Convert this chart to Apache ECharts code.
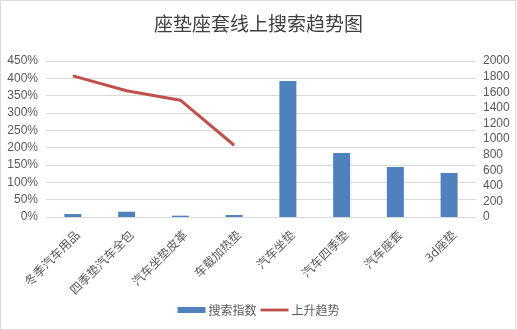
<!DOCTYPE html>
<html>
<head>
<meta charset="utf-8">
<script src="https://cdn.jsdelivr.net/npm/echarts@6/dist/echarts.min.js"></script>
<style>
html,body{margin:0;padding:0;background:#fff;}
#wrap{position:absolute;left:0;top:0;width:517px;height:330px;}
#border{position:absolute;left:0;top:0;width:516px;height:330px;box-sizing:border-box;border:1px solid #D9D9D9;pointer-events:none;}
#chart{position:absolute;left:0;top:0;width:517px;height:330px;}
</style>
</head>
<body>
<div id="wrap"><div id="chart"></div><div id="border"></div></div>
<script>
var title = '座垫座套线上搜索趋势图';
var categories = ['冬季汽车用品', '四季垫汽车全包', '汽车坐垫皮革', '车载加热垫', '汽车坐垫', '汽车四季垫', '汽车座套', '3d座垫'];
var searchIndex = [38, 68, 17, 26, 1745, 820, 641, 564];
var riseTrend = [407, 364, 337, 207, null, null, null, null];
var seriesNames = ['搜索指数', '上升趋势'];
var leftTicks = {min: 0, max: 450, interval: 50};
var rightTicks = {min: 0, max: 2000, interval: 200};

var FONT = '"Liberation Sans", "Noto Sans CJK SC", sans-serif';
var chart = echarts.init(document.getElementById('chart'), null, {renderer: 'canvas'});
chart.setOption({
  animation: false,
  backgroundColor: '#fff',
  textStyle: {fontFamily: FONT},
  title: {
    text: title, left: 'center', top: 9,
    textStyle: {fontSize: 19, fontWeight: 'normal', color: '#404040', fontFamily: '"Noto Sans CJK SC", sans-serif'}
  },
  legend: {
    bottom: 9, left: 'center', itemGap: 4,
    itemWidth: 28, itemHeight: 6,
    textStyle: {fontSize: 12, color: '#595959', fontFamily: '"Noto Sans CJK SC", sans-serif', padding: [0, 0, 0, -2]},
    data: [{name: seriesNames[0], icon: 'rect'}, {name: seriesNames[1], icon: 'path://M0,0 L30,0 L30,3 L0,3 Z', itemStyle:{color:'#C0504D'}}]
  },
  grid: {left: 46, right: 41, top: 61, bottom: 113, containLabel: false},
  xAxis: {
    type: 'category', data: categories,
    axisLine: {lineStyle: {color: '#D9D9D9', width: 1}},
    axisTick: {show: false},
    axisLabel: {rotate: 45, interval: 0, margin: 11, fontSize: 12, lineHeight: 13, verticalAlign: 'top',
      color: '#595959', fontFamily: '"Noto Sans CJK SC", sans-serif'}
  },
  yAxis: [
    {
      type: 'value', min: leftTicks.min, max: leftTicks.max, interval: leftTicks.interval,
      axisLine: {show: false}, axisTick: {show: false},
      axisLabel: {formatter: '{value}%', fontSize: 12, color: '#595959', margin: 8},
      splitLine: {lineStyle: {color: '#D9D9D9', width: 1}}
    },
    {
      type: 'value', min: rightTicks.min, max: rightTicks.max, interval: rightTicks.interval,
      position: 'right',
      axisLine: {show: false}, axisTick: {show: false},
      axisLabel: {formatter: function (v) { return String(v); }, fontSize: 12, color: '#595959', margin: 7},
      splitLine: {show: false}
    }
  ],
  series: [
    {
      name: seriesNames[0], type: 'bar', yAxisIndex: 1, data: searchIndex,
      barWidth: 17, itemStyle: {color: '#4F81BD'}
    },
    {
      name: seriesNames[1], type: 'line', yAxisIndex: 0, data: riseTrend,
      symbol: 'none', showSymbol: false, connectNulls: false,
      lineStyle: {color: '#C0504D', width: 3}, itemStyle: {color: '#C0504D'}
    }
  ]
});
</script>
</body>
</html>
